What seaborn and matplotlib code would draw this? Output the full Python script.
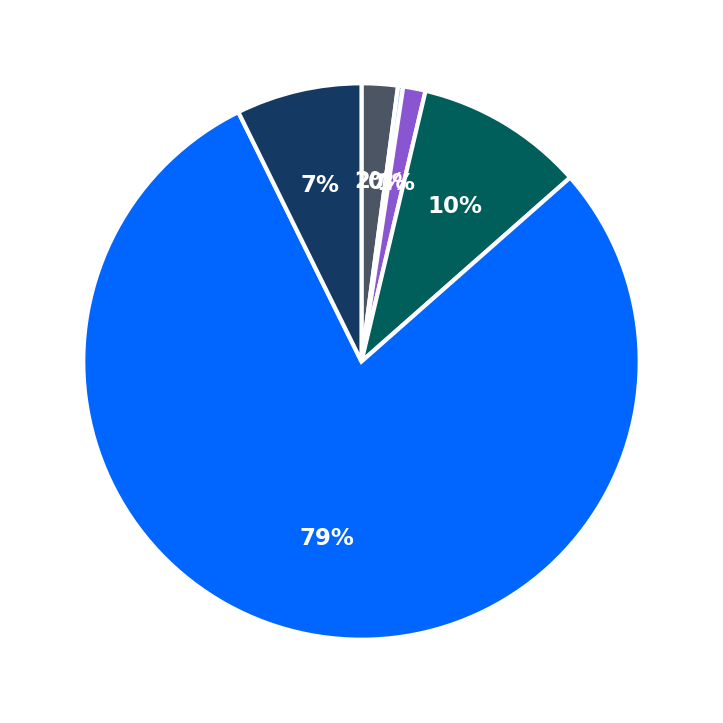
import matplotlib
matplotlib.use("Agg")
import matplotlib.pyplot as plt
import seaborn as sns
import numpy as np

categories = ["Gray", "Light blue", "Purple", "Teal", "Blue", "Navy"]
values = [2.1, 0.3, 1.3, 9.8, 79.2, 7.3]
labels_pct = ["2%", "0%", "1%", "10%", "79%", "7%"]
colors = ["#4b5563", "#a8c8ff", "#8a55d0", "#005f5b", "#0066ff", "#143a64"]

sns.set_style("white")
fig = plt.figure(figsize=(7.23, 7.23), dpi=100)
ax = fig.add_axes([0.019, 0.019, 0.962, 0.962])
wedges, texts = ax.pie(
    values,
    colors=colors,
    startangle=90,
    counterclock=False,
    wedgeprops=dict(edgecolor="white", linewidth=3),
)
total = sum(values)
cum = 0
for v, lab in zip(values, labels_pct):
    mid = 90 - (cum + v / 2) / total * 360
    cum += v
    r = 0.65
    ax.text(r * np.cos(np.radians(mid)), r * np.sin(np.radians(mid)), lab,
            ha="center", va="center", color="white", fontsize=16.5, fontweight="bold")
ax.set_aspect("equal")
fig.savefig("out.png", dpi=100)
